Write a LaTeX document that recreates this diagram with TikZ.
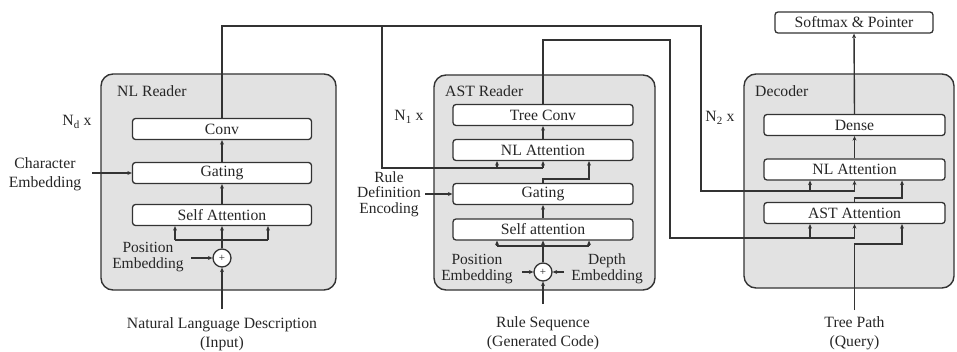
\documentclass[tikz,border=0pt]{standalone}
\usepackage{fontspec}
\setmainfont{Liberation Serif}
\usetikzlibrary{arrows.meta,calc}
\definecolor{ink}{HTML}{333333}
\definecolor{textink}{HTML}{262626}
\definecolor{panelfill}{HTML}{E2E2E2}

\begin{document}
\begin{tikzpicture}[x=1pt,y=-1pt,
  font=\fontsize{15.7}{16}\selectfont, text=textink,
  wire/.style={draw=ink, line width=1.4pt},
  arr/.style={wire, -{Stealth[length=4.5pt,width=4pt]}},
  panel/.style={draw=ink, line width=1.4pt, fill=panelfill, rounded corners=12pt, inner sep=0pt},
  blk/.style={draw=ink, line width=1.3pt, fill=white, rounded corners=3pt, minimum height=21pt, inner sep=0pt},
  lbl/.style={align=center, inner sep=0pt},
  lbltight/.style={lbl, font=\fontsize{15.5}{15.5}\selectfont},
  lblwide/.style={lbl, font=\fontsize{15.7}{18.5}\selectfont},
  sumnode/.style={circle, draw=ink, line width=1.3pt, fill=white, minimum size=18pt, inner sep=0pt, font=\fontsize{11}{11}\selectfont}
]
\useasboundingbox (0,0) rectangle (957,352);

% ---------- panels ----------
\node[panel, minimum width=235pt, minimum height=216pt] (nlpanel) at (218.5,182) {};
\node[panel, minimum width=221pt, minimum height=215pt] (astpanel) at (544.5,182.5) {};
\node[panel, minimum width=210pt, minimum height=214pt] (decpanel) at (849,181) {};

\node[anchor=west, inner sep=0pt] (nltitle) at (117,91) {NL Reader};
\node[anchor=west, inner sep=0pt] (asttitle) at (445,91) {AST Reader};
\node[anchor=west, inner sep=0pt] (dectitle) at (755,91) {Decoder};

% ---------- NL reader ----------
\node[blk, minimum width=179pt] (nlconv) at (222,129) {Conv};
\node[blk, minimum width=179pt] (nlgate) at (222,173) {Gating};
\node[blk, minimum width=179pt] (nlself) at (222,215) {Self Attention};
\node[sumnode] (nlsum) at (222,258) {+};

\node[lbl] (nlrep) at (77,122) {N\textsubscript{d} x};
\node[lblwide] (charemb) at (45,174) {Character\\Embedding};
\node[lbltight] (nlpos) at (148,257) {Position\\Embedding};
\node[lblwide] (nlin) at (222,334) {Natural Language Description\\(Input)};
\coordinate (nlinend) at (222,309);

\draw[arr] (nlgate.north) -- (nlconv.south);
\draw[arr] (nlself.north) -- (nlgate.south);
\draw[arr] (nlsum.north) -- (nlself.south);
\draw[wire] (175,240) -- (268,240);
\draw[arr] (175,240) -- (nlself.south -| 175,0);
\draw[arr] (268,240) -- (nlself.south -| 268,0);
\draw[arr] (nlinend) -- (nlsum.south);
\draw[arr] (nlgate.west -| 92,0) -- (nlgate.west);
\draw[arr] (nlsum.west -| 191,0) -- (nlsum.west);

% ---------- AST reader ----------
\node[blk, minimum width=180pt] (asttree) at (543,115) {Tree Conv};
\node[blk, minimum width=180pt] (astnl) at (543,150) {NL Attention};
\node[blk, minimum width=180pt] (astgate) at (543,194) {Gating};
\node[blk, minimum width=180pt] (astself) at (543,229.5) {Self attention};
\node[sumnode] (astsum) at (543,272) {+};

\node[lbl] (astrep) at (409,117) {N\textsubscript{1} x};
\node[lbltight] (ruledef) at (389,194) {Rule\\Definition\\Encoding};
\node[lbltight] (astpos) at (477,269) {Position\\Embedding};
\node[lbltight] (astdepth) at (607,269) {Depth\\Embedding};
\node[lblwide] (astin) at (543,333) {Rule Sequence\\(Generated Code)};
\coordinate (astinend) at (543,304);

\draw[arr] (astnl.north) -- (asttree.south);
\draw[arr] (astself.north) -- (astgate.south);
\draw[arr] (astgate.north) |- (589,179) -- (astnl.south -| 589,0);
\draw[arr] (astsum.north) -- (astself.south);
\draw[wire] (497,246) -- (589,246);
\draw[arr] (497,246) -- (astself.south -| 497,0);
\draw[arr] (589,246) -- (astself.south -| 589,0);
\draw[arr] (astinend) -- (astsum.south);
\draw[arr] (astgate.west -| 425,0) -- (astgate.west);
\draw[arr] (astsum.west -| 522,0) -- (astsum.west);
\draw[arr] (astsum.east -| 564,0) -- (astsum.east);

% ---------- decoder ----------
\node[blk, minimum width=158pt] (softmax) at (854,22.5) {Softmax \& Pointer};
\node[blk, minimum width=181pt] (decdense) at (854.5,125) {Dense};
\node[blk, minimum width=181pt] (decnl) at (854.5,169.5) {NL Attention};
\node[blk, minimum width=181pt] (decast) at (854.5,213) {AST Attention};

\node[lbl] (decrep) at (720,118) {N\textsubscript{2} x};
\node[lblwide] (decin) at (854.5,333) {Tree Path\\(Query)};
\coordinate (decinend) at (854.5,310);

\draw[arr] (decdense.north) -- (softmax.south);
\draw[arr] (decnl.north) -- (decdense.south);
\draw[arr] (decast.north) |- (902,198) -- (decnl.south -| 902,0);
\draw[arr] (decinend) |- (902,244) -- (decast.south -| 902,0);

% ---------- NL reader output to both attention layers ----------
\draw[wire] (nlconv.north) |- (701,26) |- (854.5,191);
\draw[arr] (810,191) -- (decnl.south -| 810,0);
\draw[arr] (854.5,191) -- (decnl.south);
\draw[wire] (382,26) |- (543,168);
\draw[arr] (497,168) -- (astnl.south -| 497,0);
\draw[arr] (543,168) -- (astnl.south);

% ---------- AST reader output to the decoder ----------
\draw[wire] (asttree.north) |- (670,40) |- (854.5,238);
\draw[arr] (810,238) -- (decast.south -| 810,0);
\draw[arr] (854.5,238) -- (decast.south);
\end{tikzpicture}
\end{document}
